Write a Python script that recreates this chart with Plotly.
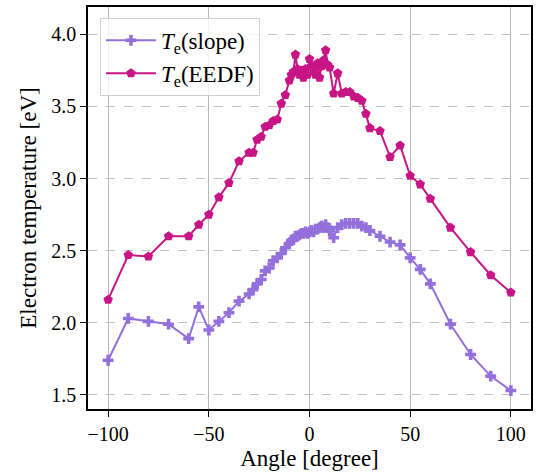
import plotly.graph_objects as go

# Angle of probe [degree], shared by both series
angle = [-100, -90, -80, -70, -60, -55, -50, -45, -40, -35, -30, -28, -26, -24, -22, -20,
         -18, -16, -14, -12, -10, -9, -8, -7, -6, -5, -4, -3, -2, -1, 0, 1, 2, 3, 4, 5,
         6, 7, 8, 9, 10, 12, 14, 16, 18, 20, 22, 24, 26, 28, 30, 35, 40, 45, 50, 55,
         60, 70, 80, 90, 100]

# Te from the I-V slope [eV]
te_slope = [1.74, 2.03, 2.01, 1.99, 1.89, 2.11, 1.95, 2.01, 2.07, 2.15, 2.20, 2.23, 2.27, 2.30, 2.36, 2.38,
            2.43, 2.45, 2.48, 2.52, 2.55, 2.57, 2.58, 2.60, 2.60, 2.61, 2.62, 2.62, 2.63, 2.62, 2.63, 2.64, 2.63, 2.65, 2.65, 2.66,
            2.67, 2.66, 2.68, 2.66, 2.64, 2.59, 2.66, 2.68, 2.69, 2.69, 2.69, 2.69, 2.67, 2.66, 2.64, 2.60, 2.56, 2.54, 2.45, 2.37,
            2.27, 1.99, 1.78, 1.63, 1.53]

# Te from the EEDF [eV]
te_eedf = [2.16, 2.47, 2.46, 2.60, 2.60, 2.68, 2.75, 2.87, 2.97, 3.12, 3.18, 3.18, 3.27, 3.29, 3.36, 3.37,
           3.40, 3.41, 3.52, 3.58, 3.68, 3.72, 3.74, 3.86, 3.76, 3.72, 3.75, 3.70, 3.76, 3.72, 3.83, 3.78, 3.75, 3.72, 3.80, 3.70,
           3.78, 3.82, 3.89, 3.79, 3.77, 3.59, 3.73, 3.59, 3.60, 3.60, 3.57, 3.56, 3.54, 3.45, 3.35, 3.33, 3.15, 3.23, 3.02, 2.96,
           2.86, 2.66, 2.49, 2.33, 2.21]

x_ticks = [-100, -50, 0, 50, 100]
y_ticks = [1.5, 2.0, 2.5, 3.0, 3.5, 4.0]

font = "'Liberation Serif', 'DejaVu Serif', serif"

fig = go.Figure()
fig.add_trace(go.Scatter(x=angle, y=te_slope, mode="lines+markers", name="<i>T</i><sub>e</sub>(slope)",
                         line=dict(color="#9370DB", width=2),
                         marker=dict(symbol="cross", size=9, color="#9370DB")))
fig.add_trace(go.Scatter(x=angle, y=te_eedf, mode="lines+markers", name="<i>T</i><sub>e</sub>(EEDF)",
                         line=dict(color="#C71585", width=2),
                         marker=dict(symbol="pentagon", size=10, color="#C71585")))

fig.update_layout(
    width=536, height=473,
    margin=dict(l=88, r=3, t=7, b=64),
    paper_bgcolor="white", plot_bgcolor="white",
    font=dict(family=font, size=20, color="black"),
    showlegend=True,
    legend=dict(x=0.027, y=0.973, xanchor="left", yanchor="top",
                bgcolor="rgba(255,255,255,0.8)", bordercolor="#d0d0d0", borderwidth=1,
                font=dict(family=font, size=23), itemwidth=50, tracegroupgap=0),
)
fig.update_xaxes(
    range=[-110, 110], tickvals=x_ticks,
    tickfont=dict(family=font, size=20),
    title=dict(text="Angle [degree]", standoff=6, font=dict(family=font, size=23)),
    showline=True, linecolor="black", linewidth=1.5, mirror=True,
    ticks="outside", ticklen=6, tickcolor="black",
    showgrid=True, gridcolor="#b8b8b8", gridwidth=1, zeroline=False,
)
fig.update_yaxes(
    range=[1.402, 4.19], tickvals=y_ticks, tickformat=".1f",
    tickfont=dict(family=font, size=20),
    title=dict(text="Electron temperature [eV]", standoff=8, font=dict(family=font, size=23)),
    showline=True, linecolor="black", linewidth=1.5, mirror=True,
    ticks="outside", ticklen=6, tickcolor="black",
    showgrid=True, gridcolor="#c0c0c0", gridwidth=1, griddash="dash", zeroline=False,
)

fig.write_html("out.html", config={"displayModeBar": False},
               post_script="document.body.style.margin='0';")
